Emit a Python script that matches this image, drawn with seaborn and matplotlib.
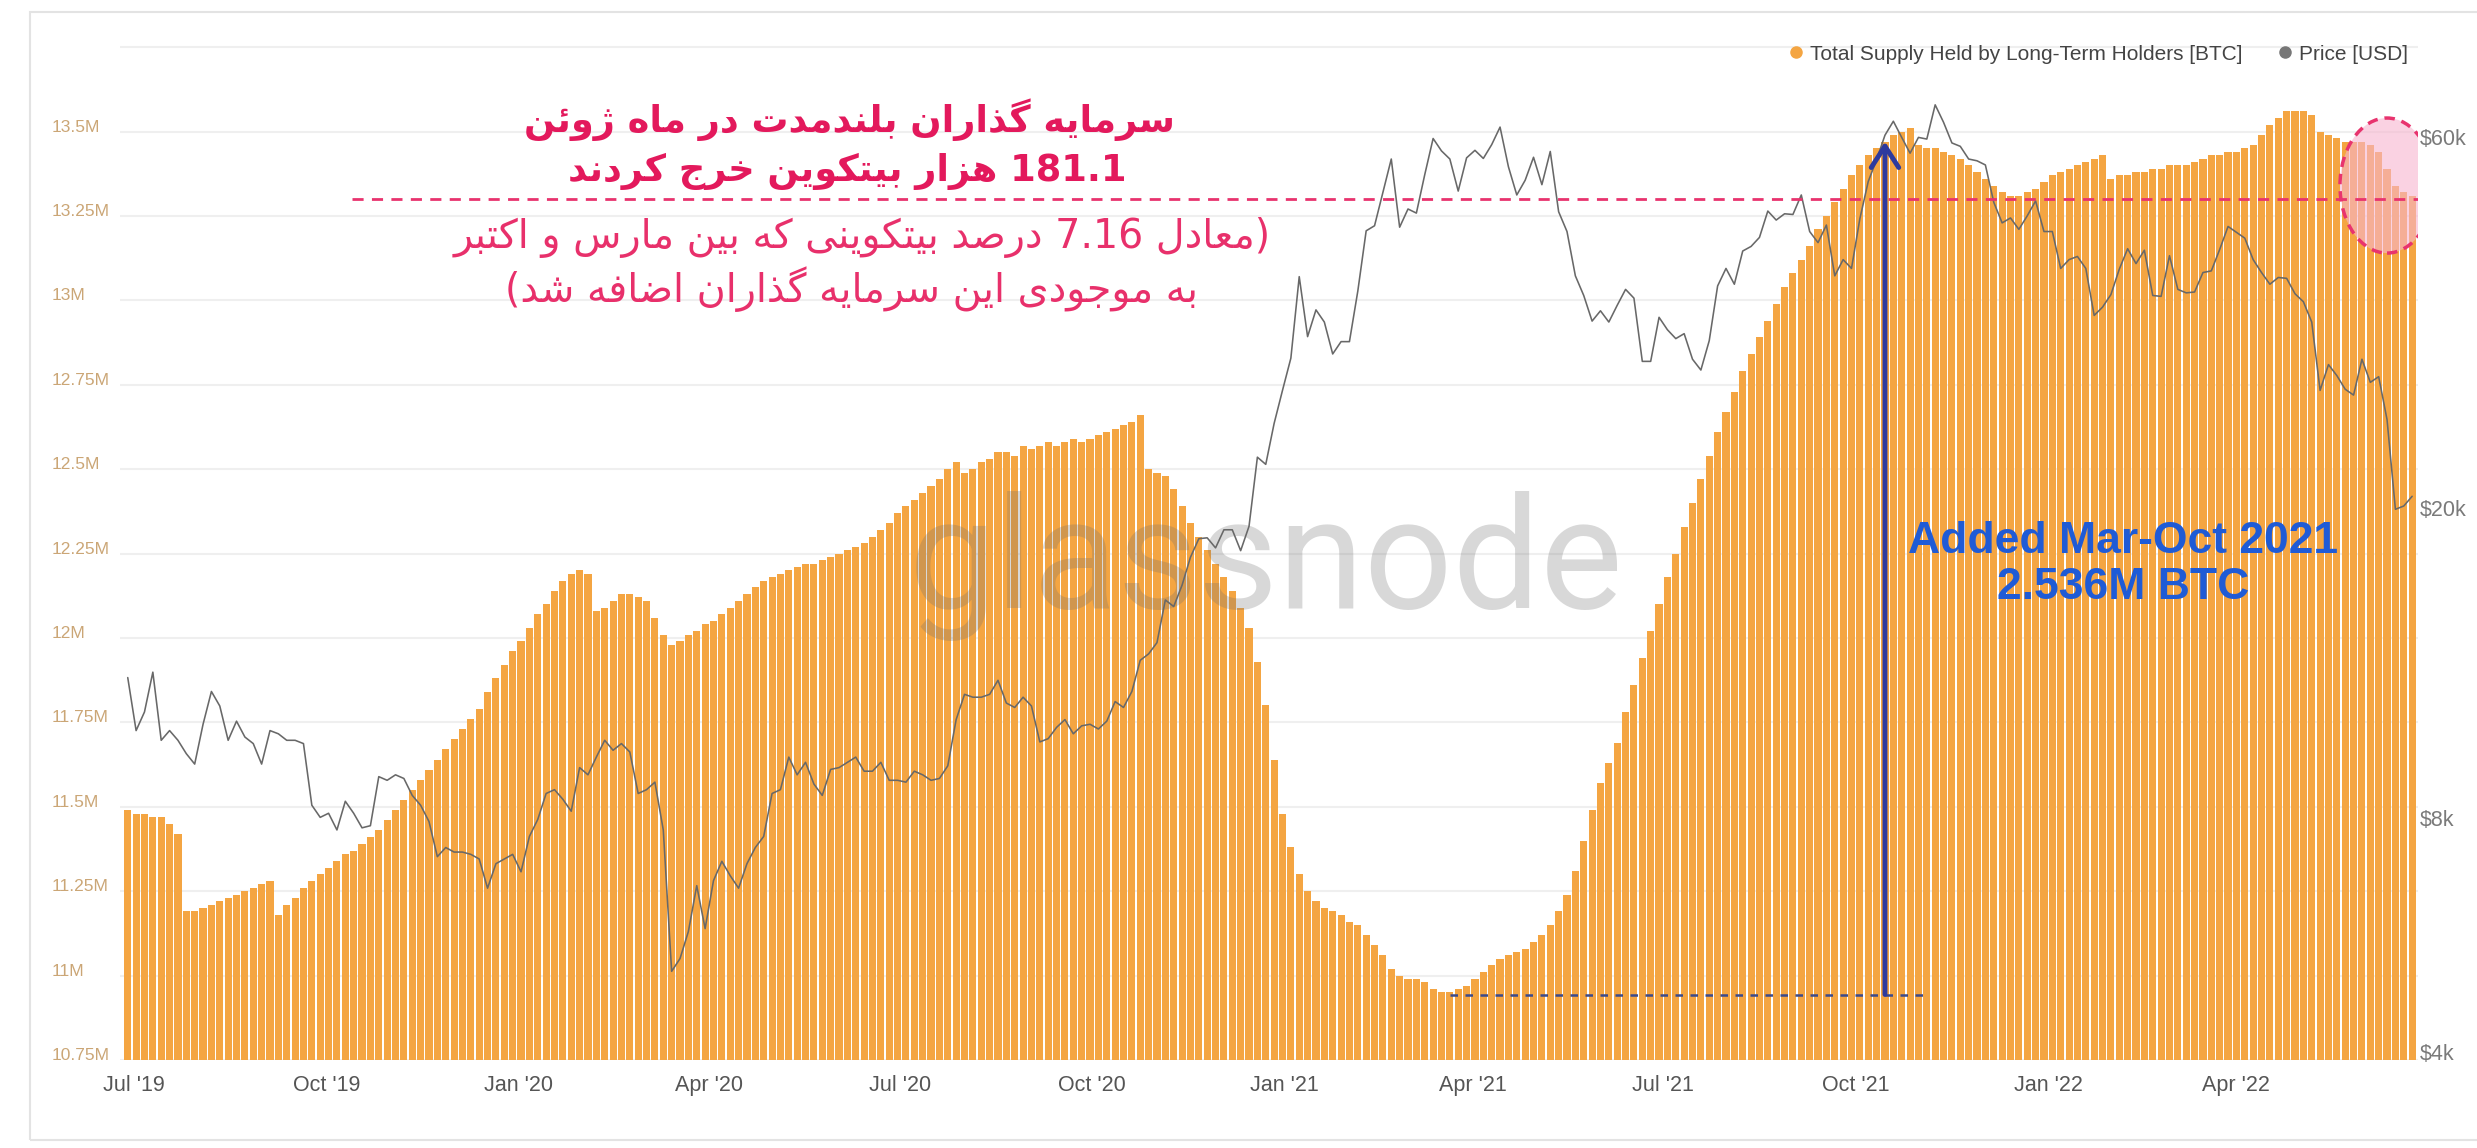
import re
import pandas as pd
import matplotlib
matplotlib.use("Agg")
import matplotlib.pyplot as plt
import seaborn as sns
from matplotlib.patches import Ellipse, Rectangle
from matplotlib.lines import Line2D

# --- data (one bar every 4 days from 2019-06-28) ---
lth_supply_m = [
    11.49, 11.48, 11.48, 11.47, 11.47, 11.45, 11.42, 11.19, 11.19, 11.20,
    11.21, 11.22, 11.23, 11.24, 11.25, 11.26, 11.27, 11.28, 11.18, 11.21,
    11.23, 11.26, 11.28, 11.30, 11.32, 11.34, 11.36, 11.37, 11.39, 11.41,
    11.43, 11.46, 11.49, 11.52, 11.55, 11.58, 11.61, 11.64, 11.67, 11.70,
    11.73, 11.76, 11.79, 11.84, 11.88, 11.92, 11.96, 11.99, 12.03, 12.07,
    12.10, 12.14, 12.17, 12.19, 12.20, 12.19, 12.08, 12.09, 12.11, 12.13,
    12.13, 12.12, 12.11, 12.06, 12.01, 11.98, 11.99, 12.01, 12.02, 12.04,
    12.05, 12.07, 12.09, 12.11, 12.13, 12.15, 12.17, 12.18, 12.19, 12.20,
    12.21, 12.22, 12.22, 12.23, 12.24, 12.25, 12.26, 12.27, 12.28, 12.30,
    12.32, 12.34, 12.37, 12.39, 12.41, 12.43, 12.45, 12.47, 12.50, 12.52,
    12.49, 12.50, 12.52, 12.53, 12.55, 12.55, 12.54, 12.57, 12.56, 12.57,
    12.58, 12.57, 12.58, 12.59, 12.58, 12.59, 12.60, 12.61, 12.62, 12.63,
    12.64, 12.66, 12.50, 12.49, 12.48, 12.44, 12.39, 12.34, 12.30, 12.26,
    12.22, 12.18, 12.14, 12.09, 12.03, 11.93, 11.80, 11.64, 11.48, 11.38,
    11.30, 11.25, 11.22, 11.20, 11.19, 11.18, 11.16, 11.15, 11.12, 11.09,
    11.06, 11.02, 11.00, 10.99, 10.99, 10.98, 10.96, 10.95, 10.95, 10.96,
    10.97, 10.99, 11.01, 11.03, 11.05, 11.06, 11.07, 11.08, 11.10, 11.12,
    11.15, 11.19, 11.24, 11.31, 11.40, 11.49, 11.57, 11.63, 11.69, 11.78,
    11.86, 11.94, 12.02, 12.10, 12.18, 12.25, 12.33, 12.40, 12.47, 12.54,
    12.61, 12.67, 12.73, 12.79, 12.84, 12.89, 12.94, 12.99, 13.04, 13.08,
    13.12, 13.16, 13.21, 13.25, 13.29, 13.33, 13.37, 13.40, 13.43, 13.45,
    13.47, 13.49, 13.50, 13.51, 13.46, 13.45, 13.45, 13.44, 13.43, 13.42,
    13.40, 13.38, 13.36, 13.34, 13.32, 13.31, 13.31, 13.32, 13.33, 13.35,
    13.37, 13.38, 13.39, 13.40, 13.41, 13.42, 13.43, 13.36, 13.37, 13.37,
    13.38, 13.38, 13.39, 13.39, 13.40, 13.40, 13.40, 13.41, 13.42, 13.43,
    13.43, 13.44, 13.44, 13.45, 13.46, 13.49, 13.52, 13.54, 13.56, 13.56,
    13.56, 13.55, 13.50, 13.49, 13.48, 13.47, 13.47, 13.47, 13.46, 13.44,
    13.39, 13.34, 13.32, 13.31,
]

btc_price_usd = [
    12400, 10600, 11200, 12600, 10300, 10600, 10300, 9900, 9600, 10800,
    11900, 11400, 10300, 10900, 10400, 10200, 9600, 10600, 10500, 10300,
    10300, 10200, 8500, 8200, 8300, 7900, 8600, 8300, 7950, 8000,
    9250, 9150, 9300, 9200, 8750, 8500, 8100, 7300, 7500, 7400,
    7400, 7350, 7250, 6650, 7150, 7250, 7350, 6980, 7750, 8150,
    8800, 8900, 8650, 8350, 9500, 9300, 9800, 10300, 10000, 10200,
    9950, 8800, 8900, 9100, 7900, 5200, 5400, 5850, 6700, 5900,
    6800, 7200, 6900, 6650, 7150, 7500, 7750, 8800, 8900, 9800,
    9300, 9650, 9050, 8750, 9450, 9500, 9650, 9800, 9400, 9400,
    9650, 9150, 9150, 9100, 9400, 9300, 9150, 9200, 9550, 10950,
    11800, 11700, 11700, 11800, 12300, 11500, 11350, 11700, 11400, 10250,
    10350, 10700, 10950, 10500, 10750, 10800, 10650, 10900, 11550, 11350,
    11900, 13050, 13300, 13750, 15600, 15300, 16300, 17700, 18700, 18750,
    18200, 19200, 19200, 18050, 19400, 23800, 23300, 26300, 29000, 31900,
    40600, 34000, 36800, 35500, 32300, 33500, 33500, 38900, 46500, 47200,
    52100, 57500, 47000, 49600, 49000, 54900, 61100, 58900, 57500, 52300,
    57700, 59000, 57600, 60000, 63200, 56200, 51700, 54000, 57800, 53300,
    58800, 49200, 46400, 40700, 38400, 35600, 36700, 35500, 37300, 39100,
    38100, 31600, 31600, 36000, 34700, 33800, 34300, 31800, 30800, 33600,
    39500, 41600, 39700, 43800, 44400, 45600, 49300, 48000, 48900, 48800,
    51700, 46400, 44900, 47300, 40700, 42700, 41600, 48200, 53800, 57400,
    61700, 64300, 61300, 58500, 61300, 61000, 67500, 64100, 60300, 59700,
    57500, 57200, 56500, 50600, 47600, 48300, 46700, 48600, 50800, 46400,
    46400, 41600, 42700, 43100, 41600, 36200, 37100, 38500, 41500, 44100,
    42200, 43900, 38400, 38300, 43200, 39100, 38700, 38800, 41100, 41300,
    44000, 47100, 46300, 45500, 42700, 41100, 39700, 40500, 40400, 38600,
    37700, 35500, 29000, 31300, 30300, 29100, 28600, 31800, 29700, 30200,
    26600, 20400, 20600, 21200,
]

x_tick_dates = ["2019-07-01", "2019-10-01", "2020-01-01", "2020-04-01",
                "2020-07-01", "2020-10-01", "2021-01-01", "2021-04-01",
                "2021-07-01", "2021-10-01", "2022-01-01", "2022-04-01"]
x_tick_labels = ["Jul '19", "Oct '19", "Jan '20", "Apr '20", "Jul '20", "Oct '20",
                 "Jan '21", "Apr '21", "Jul '21", "Oct '21", "Jan '22", "Apr '22"]
y_ticks = [10.75, 11, 11.25, 11.5, 11.75, 12, 12.25, 12.5, 12.75, 13, 13.25, 13.5, 13.75]
y_tick_labels = ["10.75M", "11M", "11.25M", "11.5M", "11.75M", "12M", "12.25M",
                 "12.5M", "12.75M", "13M", "13.25M", "13.5M", ""]
price_ticks = [4000, 8000, 20000, 60000]
price_tick_labels = ["$4k", "$8k", "$20k", "$60k"]

note_fa = [
    "سرمایه گذاران بلندمدت در ماه ژوئن",
    "181.1 هزار بیتکوین خرج کردند",
    "(معادل 7.16 درصد بیتکوینی که بین مارس و اکتبر",
    "به موجودی این سرمایه گذاران اضافه شد)",
]
note_en = "Added Mar-Oct 2021\n2.536M BTC"

# --- minimal arabic/persian shaping (matplotlib has no bidi / joining) ---
FORMS = {  # isolated, final, (initial, medial)
    "\u0627": ("\uFE8D", "\uFE8E"), "\u0622": ("\uFE81", "\uFE82"),
    "\u0628": ("\uFE8F", "\uFE90", "\uFE91", "\uFE92"),
    "\u067E": ("\uFB56", "\uFB57", "\uFB58", "\uFB59"),
    "\u062A": ("\uFE95", "\uFE96", "\uFE97", "\uFE98"),
    "\u062B": ("\uFE99", "\uFE9A", "\uFE9B", "\uFE9C"),
    "\u062C": ("\uFE9D", "\uFE9E", "\uFE9F", "\uFEA0"),
    "\u0686": ("\uFB7A", "\uFB7B", "\uFB7C", "\uFB7D"),
    "\u062D": ("\uFEA1", "\uFEA2", "\uFEA3", "\uFEA4"),
    "\u062E": ("\uFEA5", "\uFEA6", "\uFEA7", "\uFEA8"),
    "\u062F": ("\uFEA9", "\uFEAA"), "\u0630": ("\uFEAB", "\uFEAC"),
    "\u0631": ("\uFEAD", "\uFEAE"), "\u0632": ("\uFEAF", "\uFEB0"),
    "\u0698": ("\uFB8A", "\uFB8B"),
    "\u0633": ("\uFEB1", "\uFEB2", "\uFEB3", "\uFEB4"),
    "\u0634": ("\uFEB5", "\uFEB6", "\uFEB7", "\uFEB8"),
    "\u0635": ("\uFEB9", "\uFEBA", "\uFEBB", "\uFEBC"),
    "\u0636": ("\uFEBD", "\uFEBE", "\uFEBF", "\uFEC0"),
    "\u0637": ("\uFEC1", "\uFEC2", "\uFEC3", "\uFEC4"),
    "\u0638": ("\uFEC5", "\uFEC6", "\uFEC7", "\uFEC8"),
    "\u0639": ("\uFEC9", "\uFECA", "\uFECB", "\uFECC"),
    "\u063A": ("\uFECD", "\uFECE", "\uFECF", "\uFED0"),
    "\u0641": ("\uFED1", "\uFED2", "\uFED3", "\uFED4"),
    "\u0642": ("\uFED5", "\uFED6", "\uFED7", "\uFED8"),
    "\u06A9": ("\uFB8E", "\uFB8F", "\uFB90", "\uFB91"),
    "\u0643": ("\uFED9", "\uFEDA", "\uFEDB", "\uFEDC"),
    "\u06AF": ("\uFB92", "\uFB93", "\uFB94", "\uFB95"),
    "\u0644": ("\uFEDD", "\uFEDE", "\uFEDF", "\uFEE0"),
    "\u0645": ("\uFEE1", "\uFEE2", "\uFEE3", "\uFEE4"),
    "\u0646": ("\uFEE5", "\uFEE6", "\uFEE7", "\uFEE8"),
    "\u0647": ("\uFEE9", "\uFEEA", "\uFEEB", "\uFEEC"),
    "\u0648": ("\uFEED", "\uFEEE"), "\u0624": ("\uFE85", "\uFE86"),
    "\u06CC": ("\uFBFC", "\uFBFD", "\uFBFE", "\uFBFF"),
    "\u064A": ("\uFEF1", "\uFEF2", "\uFEF3", "\uFEF4"),
    "\u0626": ("\uFE89", "\uFE8A", "\uFE8B", "\uFE8C"),
}


def rtl(text):
    out = []
    for i, ch in enumerate(text):
        f = FORMS.get(ch)
        if f is None:
            out.append(ch)
            continue
        prev = FORMS.get(text[i - 1]) if i > 0 else None
        nxt = FORMS.get(text[i + 1]) if i + 1 < len(text) else None
        jp = prev is not None and len(prev) == 4
        jn = len(f) == 4 and nxt is not None
        out.append(f[3] if jp and jn else f[1] if jp else f[2] if jn else f[0])
    vis = "".join(out)[::-1]
    vis = re.sub(r"[0-9.]+", lambda m: m.group(0)[::-1], vis)
    return vis.translate(str.maketrans("()", ")("))


# --- layout ---
W, H = 2477, 1148
start = pd.Timestamp("2019-07-01")
bar_days = (pd.date_range("2019-06-28", periods=len(lth_supply_m), freq="4D") - start).days
tick_days = (pd.to_datetime(x_tick_dates) - start).days

sns.set_style("white")
plt.rcParams["font.family"] = ["Liberation Sans", "DejaVu Sans"]

fig = plt.figure(figsize=(W / 100, H / 100), dpi=100)
ax = fig.add_axes([120 / W, 1 - 1060 / H, (2418 - 120) / W, (1060 - 37) / H])
ax2 = ax.twinx()

sns.barplot(x=bar_days, y=lth_supply_m, native_scale=True, width=0.85,
            color="#F4A542", saturation=1, errorbar=None, linewidth=0, ax=ax)
sns.lineplot(x=bar_days, y=btc_price_usd, color="#686868", linewidth=1.15, ax=ax2)

ax.set_xlim(-6.7, 1091.8)
ax.set_ylim(10.75, 13.78)
ax2.set_yscale("log")
ax2.set_ylim(4000, 82500)

ax.set_yticks(y_ticks)
ax.set_yticklabels(y_tick_labels)
ax.tick_params(axis="y", length=0, pad=49, labelsize=12.5, labelcolor="#CBA676")
for lab in ax.get_yticklabels():
    lab.set_ha("left")
    lab.set_va("baseline")
ax.set_xticks(tick_days)
ax.set_xticklabels(x_tick_labels)
ax.tick_params(axis="x", length=0, pad=11, labelsize=15.5, labelcolor="#555555")

ax2.set_yticks(price_ticks)
ax2.set_yticklabels(price_tick_labels)
ax2.yaxis.set_minor_locator(matplotlib.ticker.NullLocator())
ax2.tick_params(axis="y", length=0, pad=1, labelsize=15.5, labelcolor="#7a7a7a")
for lab in ax2.get_yticklabels():
    lab.set_va("baseline")

ax.grid(axis="y", color="#efefef", linewidth=1.5)
ax.grid(axis="x", visible=False)
ax.set_axisbelow(True)
ax2.grid(False)
for a in (ax, ax2):
    a.set_xlabel("")
    a.set_ylabel("")
    for s in a.spines.values():
        s.set_visible(False)

# watermark
ax.text(541, 12.09, "glassnode", ha="center", va="baseline", fontsize=112,
        family="Roboto", color="#707070", alpha=0.27, zorder=3)

# annotations (drawn on the price axes so they sit on top, in supply coords)
tr = ax.transData
ax2.add_line(Line2D([104, 1092], [13.30, 13.30], transform=tr, color="#E8336E",
                    lw=2, linestyle=(0, (4, 3))))
ax2.add_patch(Ellipse((1077, 13.34), 45, 0.40, transform=tr, facecolor="#F7B5CF",
                      alpha=0.6, edgecolor="none"))
ax2.add_patch(Ellipse((1077, 13.34), 45, 0.40, transform=tr, facecolor="none",
                      edgecolor="#E8336E", lw=2.5, linestyle=(0, (3, 2))))
ax2.add_line(Line2D([629, 855], [10.944, 10.944], transform=tr, color="#3B4A8C",
                    lw=1.8, linestyle=(0, (3, 3))))
ax2.annotate("", xy=(837, 13.47), xytext=(837, 10.944), xycoords=tr, textcoords=tr,
             arrowprops=dict(arrowstyle="->,head_length=0.7,head_width=0.45",
                             lw=3.5, color="#2E3A9E", shrinkA=0, shrinkB=0,
                             mutation_scale=22))
ax2.text(951, 12.217, note_en, transform=tr, ha="center", va="center",
         fontsize=32, fontweight="bold", color="#1F5BD6", linespacing=1.15)

fa_pos = [(342, 13.536), (341, 13.382), (348, 13.186), (343, 13.032)]
for i, (line, (xd, yv)) in enumerate(zip(note_fa, fa_pos)):
    ax2.text(xd, yv, rtl(line), transform=tr, ha="center", va="center",
             family="DejaVu Sans", fontsize=26.5 if i < 2 else 28.5,
             fontweight="bold" if i < 2 else "normal",
             color="#E3195C" if i < 2 else "#E8306B")

ax2.set_xlim(-6.7, 1091.8)
ax2.set_ylim(4000, 82500)

# legend
handles = [Line2D([], [], marker="o", ls="", color="#F4A542", markersize=8),
           Line2D([], [], marker="o", ls="", color="#777777", markersize=8)]
fig.legend(handles, ["Total Supply Held by Long-Term Holders [BTC]", "Price [USD]"],
           loc="upper right", bbox_to_anchor=(2427 / W, 1 - 26 / H), ncol=2,
           frameon=False, fontsize=15, labelcolor="#444444",
           handletextpad=0.2, columnspacing=1.5, handlelength=1)

# card border
fig.add_artist(Rectangle((30 / W, 1 - 1140 / H), 1.0, (1140 - 12) / H,
                         transform=fig.transFigure, fill=False,
                         edgecolor="#e3e3e3", lw=1.5))

fig.savefig("out.png", dpi=100, facecolor="white")
